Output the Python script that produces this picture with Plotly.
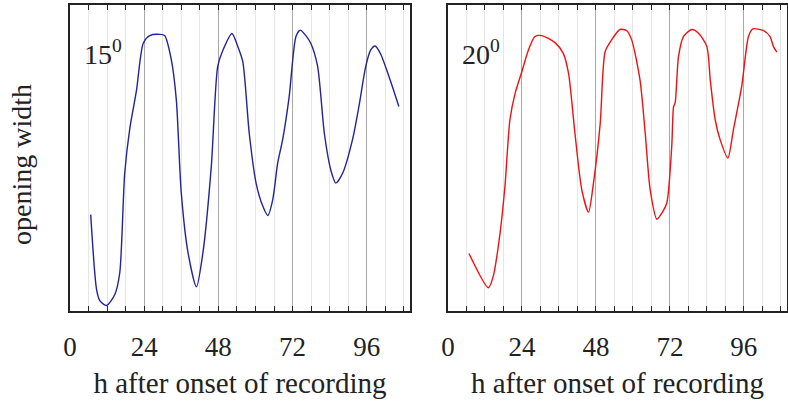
import plotly.graph_objects as go
from plotly.subplots import make_subplots

# 15 degree series (hours after onset, relative opening width)
hours_15 = [6.7, 8.6, 9.7, 11.8, 14.5, 16.1, 17.7, 19.4, 21.5, 23.7, 25.8, 29.0, 30.6, 32.8,
            34.4, 36.0, 38.2, 40.9, 43.0, 45.7, 47.8, 49.5, 52.4, 54.3, 55.9, 58.0, 60.2,
            62.4, 64.0, 65.6, 67.2, 68.8, 70.9, 73.1, 74.5, 76.3, 77.9, 80.1, 82.3, 84.4,
            86.0, 88.2, 91.4, 93.5, 95.7, 97.3, 98.7, 100.5, 103.2, 106.4]
width_15 = [0.315, 0.07, 0.033, 0.018, 0.054, 0.125, 0.45, 0.60, 0.72, 0.875, 0.90, 0.904,
            0.90, 0.82, 0.69, 0.386, 0.19, 0.079, 0.19, 0.47, 0.80, 0.853, 0.907, 0.864,
            0.815, 0.58, 0.418, 0.342, 0.312, 0.364, 0.484, 0.56, 0.70, 0.897, 0.918, 0.90,
            0.875, 0.80, 0.58, 0.46, 0.418, 0.45, 0.56, 0.67, 0.80, 0.853, 0.866, 0.84,
            0.766, 0.668]

# 20 degree series
hours_20 = [6.8, 13.1, 14.7, 16.9, 18.5, 20.1, 21.8, 23.9, 26.1, 28.2, 30.4, 34.7, 37.4,
            39.1, 41.2, 43.4, 45.6, 47.2, 49.4, 51.0, 53.1, 55.8, 58.0, 59.6, 62.3, 64.0,
            65.6, 67.8, 69.4, 71.0, 72.6, 73.2, 73.7, 74.8, 76.4, 79.1, 81.3, 84.0, 85.1,
            86.7, 88.3, 90.8, 92.6, 95.3, 97.5, 98.9, 102.4, 104.5, 105.6, 106.7]
width_20 = [0.188, 0.076, 0.114, 0.255, 0.41, 0.625, 0.712, 0.78, 0.853, 0.897, 0.90, 0.877,
            0.842, 0.777, 0.58, 0.397, 0.323, 0.418, 0.614, 0.848, 0.886, 0.92, 0.916, 0.886,
            0.755, 0.58, 0.397, 0.30, 0.32, 0.353, 0.538, 0.668, 0.68, 0.832, 0.897, 0.92,
            0.908, 0.864, 0.755, 0.625, 0.56, 0.50, 0.592, 0.734, 0.897, 0.922, 0.916, 0.897,
            0.864, 0.846]

tick_vals = [0, 24, 48, 72, 96]
panel_labels = ["15<sup>0</sup>", "20<sup>0</sup>"]
x_title = "h after onset of recording"
y_title = "opening width"

FONT = "Liberation Serif"
W, H = 788, 403
INK = "#222"

fig = make_subplots(rows=1, cols=2, horizontal_spacing=0.05)
fig.add_trace(go.Scatter(x=hours_15, y=width_15, mode="lines",
                         line=dict(color="#23239a", width=1.4, shape="spline", smoothing=0.7),
                         showlegend=False), row=1, col=1)
fig.add_trace(go.Scatter(x=hours_20, y=width_20, mode="lines",
                         line=dict(color="#ee1111", width=1.4, shape="spline", smoothing=0.7),
                         showlegend=False), row=1, col=2)

xcommon = dict(range=[0, 110], tickmode="array", tickvals=tick_vals,
               ticks="inside", ticklen=5, tickcolor=INK, tickwidth=1,
               showgrid=True, gridcolor="#a8a8a8", gridwidth=1,
               showline=True, linecolor=INK, linewidth=1.5, mirror="allticks",
               zeroline=False,
               minor=dict(tickmode="linear", tick0=0, dtick=6, ticks="inside", ticklen=5,
                          tickcolor=INK, showgrid=True, gridcolor="#e6e6e6", gridwidth=1),
               tickfont=dict(family=FONT, size=27, color=INK),
               ticklabelstandoff=11,
               title=dict(text=x_title, font=dict(family=FONT, size=29, color=INK), standoff=12),
               automargin=False)
ycommon = dict(range=[0, 1], showticklabels=False, ticks="", showgrid=False,
               showline=True, linecolor=INK, linewidth=1.5, mirror=True, zeroline=False)

fig.update_xaxes(**xcommon)
fig.update_yaxes(**ycommon)
fig.update_layout(
    width=W, height=H,
    margin=dict(l=0, r=0, t=5, b=92),
    plot_bgcolor="white", paper_bgcolor="white",
    xaxis=dict(domain=[70 / W, 410 / W]),
    xaxis2=dict(domain=[448 / W, 787 / W]),
)
for ax, lab in (("", panel_labels[0]), ("2", panel_labels[1])):
    fig.add_annotation(xref="x" + ax, yref="y" + ax, x=4.0, y=0.845, text=lab, showarrow=False,
                       xanchor="left", yanchor="middle",
                       font=dict(family=FONT, size=28, color=INK))
fig.add_annotation(xref="paper", yref="paper", x=22 / W, y=(H - 5 - 160) / (H - 97) - 92 / (H - 97),
                   text=y_title, showarrow=False,
                   textangle=-90, xanchor="center", yanchor="middle",
                   font=dict(family=FONT, size=28, color=INK))

fig.write_html("out.html", config={"displayModeBar": False},
               post_script="document.body.style.margin='0';")
